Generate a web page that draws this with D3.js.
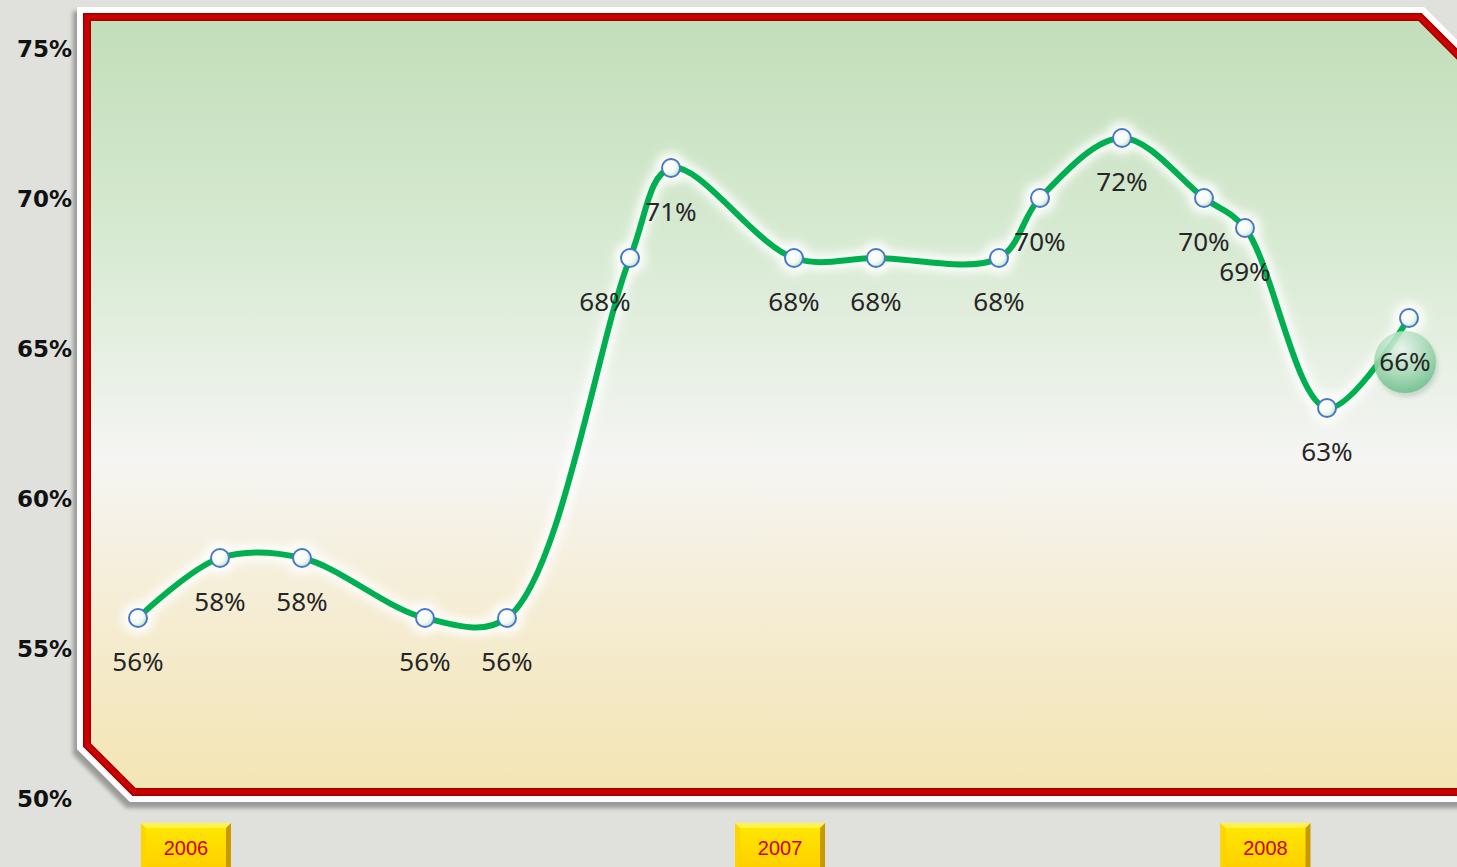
<!DOCTYPE html>
<html>
<head>
<meta charset="utf-8">
<script src="https://cdn.jsdelivr.net/npm/d3@7"></script>
<style>
  body { margin: 0; background: #e0e0dc; overflow: hidden; }
  #chart { width: 1457px; height: 867px; }
  .yTick text { font-family: "DejaVu Sans", sans-serif; font-weight: bold; font-size: 23px; fill: #111; }
  .ptLabel { font-family: "Noto Sans", sans-serif; font-size: 26px; fill: #262626; text-anchor: middle; }
  .yearText { font-family: "Liberation Sans", Arial, sans-serif; font-size: 20px; fill: #cc0000; text-anchor: middle; }
</style>
</head>
<body>
<div id="chart"></div>
<script>
// data. period = position along x (equal steps), value = percent
var periods = [0, 2, 4, 7, 9, 12, 13, 16, 18, 21, 22, 24, 26, 27, 29, 31];
var values  = [56, 58, 58, 56, 56, 68, 71, 68, 68, 68, 70, 72, 70, 69, 63, 66];
var yTicks  = [50, 55, 60, 65, 70, 75];
var years   = ["2006", "2007", "2008"];
var yearPos = [1.17, 15.66, 27.5];

var svgWidth = 1457;
var svgHeight = 867;

var svg = d3.select("#chart")
  .append("svg")
  .attr("width", svgWidth)
  .attr("height", svgHeight);

var defs = svg.append("defs");

// background gradient of the plot area (green -> white -> beige)
var bg = defs.append("linearGradient")
  .attr("id", "plotFill")
  .attr("x1", 0).attr("y1", 0).attr("x2", 0).attr("y2", 1);
bg.append("stop").attr("offset", "0%").attr("stop-color", "#c2deb9");
bg.append("stop").attr("offset", "30%").attr("stop-color", "#d8ead3");
bg.append("stop").attr("offset", "57%").attr("stop-color", "#f5f5f3");
bg.append("stop").attr("offset", "75%").attr("stop-color", "#f5edd6");
bg.append("stop").attr("offset", "100%").attr("stop-color", "#f3e5b3");

defs.append("filter").attr("id", "blur3")
  .attr("x", "-10%").attr("y", "-10%").attr("width", "120%").attr("height", "120%")
  .append("feGaussianBlur").attr("stdDeviation", 2);

defs.append("filter").attr("id", "glow")
  .attr("x", "-10%").attr("y", "-10%").attr("width", "120%").attr("height", "120%")
  .append("feGaussianBlur").attr("stdDeviation", 5);

// marker fill
var mk = defs.append("radialGradient").attr("id", "markFill")
  .attr("cx", "35%").attr("cy", "35%").attr("r", "70%");
mk.append("stop").attr("offset", "0%").attr("stop-color", "#ffffff");
mk.append("stop").attr("offset", "60%").attr("stop-color", "#f4fbf6");
mk.append("stop").attr("offset", "100%").attr("stop-color", "#bfe3c9");

// highlight bubble for the last point
var bub = defs.append("radialGradient").attr("id", "bubble")
  .attr("cx", "45%").attr("cy", "30%").attr("r", "70%");
bub.append("stop").attr("offset", "0%").attr("stop-color", "#eef9f1");
bub.append("stop").attr("offset", "55%").attr("stop-color", "#a9dcb9");
bub.append("stop").attr("offset", "100%").attr("stop-color", "#6cc08c");

// year box gradient
var yb = defs.append("linearGradient").attr("id", "yearFill")
  .attr("x1", 0).attr("y1", 0).attr("x2", 0).attr("y2", 1);
yb.append("stop").attr("offset", "0%").attr("stop-color", "#ffe600");
yb.append("stop").attr("offset", "100%").attr("stop-color", "#ffcc00");

// frame polygon (chamfered top-right and bottom-left)
var frame = [[87, 17], [1420, 17], [1472, 69], [1472, 792], [134, 792], [87, 745]];
var framePath = "M" + frame.map(p => p.join(",")).join("L") + "Z";

svg.append("path")
  .attr("d", framePath)
  .attr("transform", "translate(-3,5)")
  .attr("fill", "#9a9a98")
  .attr("stroke", "#9a9a98")
  .attr("stroke-width", 22)
  .attr("filter", "url(#blur3)");

svg.append("path")
  .attr("d", framePath)
  .attr("fill", "none")
  .attr("stroke", "#ffffff")
  .attr("stroke-width", 20);

svg.append("path")
  .attr("d", framePath)
  .attr("fill", "url(#plotFill)");

svg.append("path")
  .attr("d", framePath)
  .attr("fill", "none")
  .attr("stroke", "#9e0000")
  .attr("stroke-width", 8);

svg.append("path")
  .attr("d", framePath)
  .attr("fill", "none")
  .attr("stroke", "#cc0000")
  .attr("stroke-width", 5);

// scales
var xScale = d3.scaleLinear()
  .domain([0, 31])
  .range([138, 1409]);

var yScale = d3.scaleLinear()
  .domain([50, 75])
  .range([798, 48]);

// y axis - labels only
var leftAxis = d3.axisLeft(yScale)
  .tickValues(yTicks)
  .tickSize(0)
  .tickPadding(0)
  .tickFormat(d => d + "%");

var yAxisG = svg.append("g")
  .attr("transform", "translate(72,0)")
  .call(leftAxis);
yAxisG.select(".domain").remove();
yAxisG.selectAll(".tick").attr("class", "tick yTick");
yAxisG.selectAll(".tick text").attr("dy", "0.36em");

var data = periods.map((p, i) => ({ p: p, v: values[i] }));

var line = d3.line()
  .x(d => xScale(d.p))
  .y(d => yScale(d.v))
  .curve(d3.curveCatmullRom.alpha(0.5));

var chartGroup = svg.append("g");

// white glow behind line and markers
var glowG = chartGroup.append("g").attr("filter", "url(#glow)").attr("opacity", 0.95);
glowG.append("path")
  .datum(data)
  .attr("d", line)
  .attr("fill", "none")
  .attr("stroke", "#ffffff")
  .attr("stroke-width", 16);
glowG.selectAll("circle")
  .data(data)
  .enter()
  .append("circle")
  .attr("cx", d => xScale(d.p))
  .attr("cy", d => yScale(d.v))
  .attr("r", 16)
  .attr("fill", "#ffffff");

chartGroup.append("path")
  .datum(data)
  .attr("d", line)
  .attr("fill", "none")
  .attr("stroke", "#00b050")
  .attr("stroke-width", 6)
  .attr("stroke-linecap", "round");

// highlight bubble under the last label
var last = data[data.length - 1];
chartGroup.append("circle")
  .attr("cx", xScale(last.p) - 2)
  .attr("cy", yScale(last.v) + 48)
  .attr("r", 31)
  .attr("fill", "#6a8a70")
  .attr("opacity", 0.25)
  .attr("filter", "url(#blur3)");
chartGroup.append("circle")
  .attr("cx", xScale(last.p) - 4)
  .attr("cy", yScale(last.v) + 44)
  .attr("r", 31)
  .attr("fill", "url(#bubble)")
  .attr("opacity", 0.85);

// markers
chartGroup.selectAll(".mark")
  .data(data)
  .enter()
  .append("circle")
  .attr("class", "mark")
  .attr("cx", d => xScale(d.p))
  .attr("cy", d => yScale(d.v))
  .attr("r", 9)
  .attr("fill", "url(#markFill)")
  .attr("stroke", "#4a78c8")
  .attr("stroke-width", 2);

// point labels (below each point; the one on the steep climb sits to the left)
chartGroup.selectAll(".ptLabel")
  .data(data)
  .enter()
  .append("text")
  .attr("class", "ptLabel")
  .attr("x", (d, i) => xScale(d.p) + (i == 5 ? -25 : (i == data.length - 1 ? -4 : 0)))
  .attr("y", d => yScale(d.v) + 53)
  .text(d => d.v + "%");

// year boxes
var yearG = svg.selectAll(".yearBox")
  .data(years)
  .enter()
  .append("g")
  .attr("class", "yearBox")
  .attr("transform", (d, i) => `translate(${xScale(yearPos[i]) - 45}, 823)`);

yearG.append("rect")
  .attr("width", 90).attr("height", 50)
  .attr("fill", "#c99a00");
yearG.append("path")
  .attr("d", "M0,0L90,0L85,5L5,5L5,50L0,50Z")
  .attr("fill", "#fff24a");
yearG.append("path")
  .attr("d", "M0,0L5,5L5,50L0,50Z")
  .attr("fill", "#ffd400");
yearG.append("rect")
  .attr("x", 5).attr("y", 5)
  .attr("width", 80).attr("height", 45)
  .attr("fill", "url(#yearFill)");
yearG.append("text")
  .attr("class", "yearText")
  .attr("x", 45)
  .attr("y", 32)
  .text(d => d);
</script>
</body>
</html>
